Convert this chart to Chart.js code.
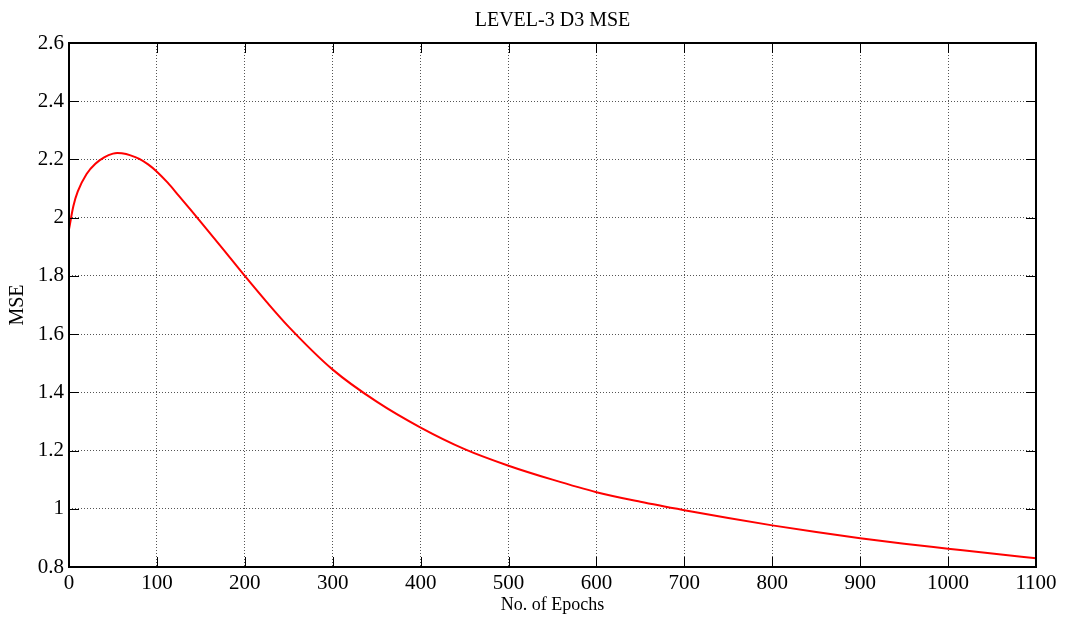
<!DOCTYPE html>
<html>
<head>
<meta charset="utf-8">
<title>LEVEL-3 D3 MSE</title>
<script src="https://cdn.jsdelivr.net/npm/chart.js@4/dist/chart.umd.min.js"></script>
<style>
  html, body { margin: 0; padding: 0; background: #fff; }
  #wrap { width: 1065px; height: 617px; }
</style>
</head>
<body>
<div id="wrap"><canvas id="mse-chart" width="1065" height="617"></canvas></div>
<script>
"use strict";

// training curve, sampled along the epochs
const epochs = [
  0, 5, 10, 20, 30, 40, 50, 55, 60, 70, 80, 90, 100, 112, 125, 137, 150,
  175, 200, 225, 250, 300, 350, 400, 450, 500, 550, 600, 650, 700, 750,
  800, 850, 900, 950, 1000, 1050, 1100,
];
const mse = [
  1.96, 2.04, 2.09, 2.15, 2.185, 2.207, 2.22, 2.222, 2.221, 2.214, 2.202,
  2.183, 2.158, 2.121, 2.075, 2.032, 1.985, 1.893, 1.8, 1.71, 1.625, 1.478,
  1.368, 1.279, 1.205, 1.148, 1.1, 1.057, 1.024, 0.995, 0.968, 0.943, 0.92,
  0.899, 0.88, 0.863, 0.846, 0.83,
];
const xTicks = [0, 100, 200, 300, 400, 500, 600, 700, 800, 900, 1000, 1100];
const yTicks = [0.8, 1, 1.2, 1.4, 1.6, 1.8, 2, 2.2, 2.4, 2.6];

const serif = "'Liberation Serif', 'Times New Roman', serif";

// black box round the plot with short inward ticks on every side
const boxTicks = {
  id: "boxTicks",
  afterDraw(chart) {
    const { ctx, chartArea: a, scales } = chart;
    const len = 10;
    ctx.save();
    ctx.strokeStyle = "#000";
    ctx.lineWidth = 1;
    ctx.beginPath();
    scales.x.ticks.forEach((t) => {
      const px = Math.round(scales.x.getPixelForValue(t.value)) + 0.5;
      ctx.moveTo(px, a.bottom);
      ctx.lineTo(px, a.bottom - len);
      ctx.moveTo(px, a.top);
      ctx.lineTo(px, a.top + len);
    });
    scales.y.ticks.forEach((t) => {
      const py = Math.round(scales.y.getPixelForValue(t.value)) + 0.5;
      ctx.moveTo(a.left, py);
      ctx.lineTo(a.left + len, py);
      ctx.moveTo(a.right, py);
      ctx.lineTo(a.right - len, py);
    });
    ctx.stroke();
    ctx.lineWidth = 2;
    ctx.strokeRect(a.left, a.top, a.right - a.left, a.bottom - a.top);
    ctx.restore();
  },
};

const chartCtx = document.querySelector("#mse-chart").getContext("2d");
new Chart(chartCtx, {
  type: "line",
  data: {
    datasets: [
      {
        label: "MSE",
        data: epochs.map((e, i) => ({ x: e, y: mse[i] })),
        borderColor: "#ff0000",
        borderWidth: 2,
        pointRadius: 0,
        cubicInterpolationMode: "monotone",
        fill: false,
      },
    ],
  },
  options: {
    responsive: false,
    animation: false,
    layout: { padding: { left: 0, right: 29, top: 0, bottom: 0 } },
    plugins: {
      legend: { display: false },
      tooltip: { enabled: false },
      title: {
        display: true,
        text: "LEVEL-3 D3 MSE",
        fullSize: false,
        color: "#000",
        font: { family: serif, size: 20, weight: "normal" },
        padding: { top: 9, bottom: 10 },
      },
    },
    scales: {
      x: {
        type: "linear",
        min: 0,
        max: 1100,
        afterBuildTicks: (s) => { s.ticks = xTicks.map((v) => ({ value: v })); },
        afterFit: (s) => { s.height = 50; },
        grid: { color: "#555", lineWidth: 1, drawTicks: false },
        border: { display: false, dash: [1, 2] },
        ticks: {
          color: "#000",
          padding: 4,
          maxRotation: 0,
          font: { family: serif, size: 21 },
          callback: (v) => String(v),
        },
        title: {
          display: true,
          text: "No. of Epochs",
          color: "#000",
          font: { family: serif, size: 18 },
          padding: { top: 0, bottom: 1 },
        },
      },
      y: {
        type: "linear",
        min: 0.8,
        max: 2.6,
        afterBuildTicks: (s) => { s.ticks = yTicks.map((v) => ({ value: v })); },
        afterFit: (s) => { s.width = 69; },
        grid: { color: "#555", lineWidth: 1, drawTicks: false },
        border: { display: false, dash: [1, 2] },
        ticks: {
          color: "#000",
          padding: 5,
          font: { family: serif, size: 21 },
          callback: (v) => String(+v.toFixed(1)),
        },
        title: {
          display: true,
          text: "MSE",
          color: "#000",
          font: { family: serif, size: 20 },
          padding: { top: 6, bottom: 0 },
        },
      },
    },
  },
  plugins: [boxTicks],
});
</script>
</body>
</html>
